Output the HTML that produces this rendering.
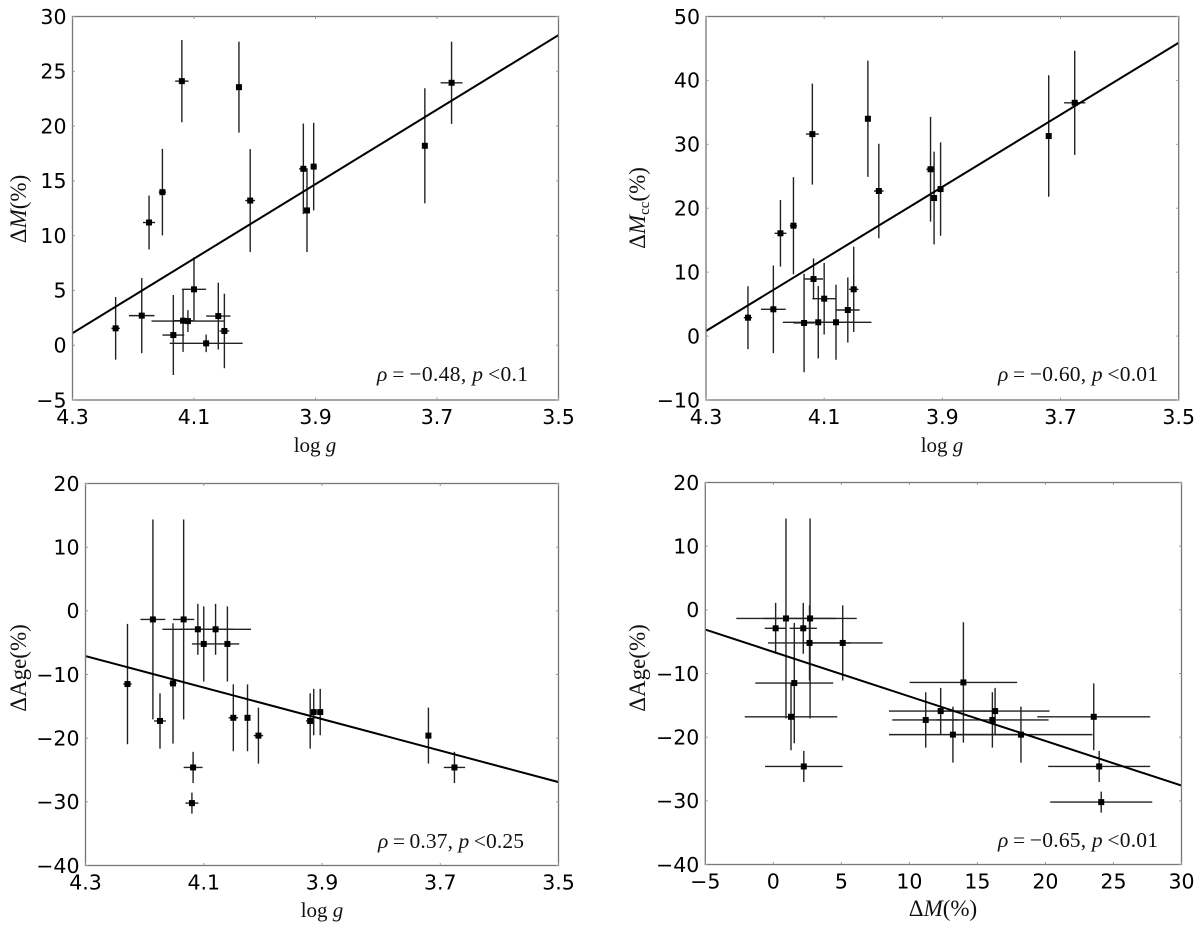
<!DOCTYPE html>
<html>
<head>
<meta charset="utf-8">
<title>Correlation panels</title>
<style>
  html, body { margin: 0; padding: 0; background: #fff; }
  #figure { display: block; width: 1200px; height: 931px; filter: blur(0.35px); }
  .tick-label { font-family: "DejaVu Sans", sans-serif; font-size: 20.5px; fill: #000; }
  .serif { font-family: "Liberation Serif", serif; fill: #111; }
</style>
</head>
<body>
<svg id="figure" xmlns="http://www.w3.org/2000/svg" width="1200" height="931" viewBox="0 0 1200 931"></svg>
<script>
// Star measurements, one entry per star
const logg = [4.229, 4.186, 4.174, 4.152, 4.134, 4.12, 4.118, 4.11, 4.10, 4.08, 4.06, 4.05, 4.026, 4.0075, 3.92, 3.914, 3.903, 3.72, 3.676];
const loggErr = [0.007, 0.021, 0.01, 0.006, 0.018, 0.011, 0.016, 0.06, 0.02, 0.06, 0.02, 0.008, 0.003, 0.008, 0.007, 0.005, 0.005, 0.003, 0.018];
const deltaM = [1.54, 2.7, 11.2, 13.97, 0.93, 24.1, 2.24, 2.2, 5.1, 0.17, 2.66, 1.3, 23.55, 13.2, 16.1, 12.3, 16.3, 18.2, 23.95];
const deltaMErr = [2.86, 3.43, 2.46, 3.95, 3.65, 3.75, 2.85, 1.0, 2.93, 0.8, 3.05, 3.4, 4.15, 4.7, 4.13, 3.8, 4.0, 5.25, 3.75];
const deltaMcc = [2.88, 4.19, 16.08, 17.27, 2.05, 31.6, 8.93, 2.16, 5.85, 2.16, 4.08, 7.32, 34, 22.7, 26.1, 21.6, 23, 31.3, 36.5];
const deltaMccErr = [4.92, 6.85, 5.22, 7.6, 7.7, 7.9, 3.2, 5.67, 5.6, 5.87, 5.08, 6.68, 9.1, 7.4, 8.2, 7.25, 7.3, 9.5, 8.15];
const deltaAge = [-11.5, -1.35, -17.3, -11.4, -1.35, -30.2, -24.6, -2.9, -5.2, -2.9, -5.2, -16.8, -16.8, -19.6, -17.3, -15.9, -15.9, -19.6, -24.6];
const deltaAgeErr = [9.45, 15.7, 4.35, 9.45, 15.7, 1.65, 2.45, 4, 5.9, 4, 5.9, 5.25, 5.25, 4.4, 4.35, 3.65, 3.65, 4.4, 2.45];

// Fit line end values, read at the left and right axis limits
const fitMassVsLogg = [1.1, 28.3];
const fitMccVsLogg = [0.8, 45.9];
const fitAgeVsLogg = [-7.1, -26.9];
const fitAgeVsMass = [-3.1, -27.6];

// Tick values
const loggTicks = [4.3, 4.1, 3.9, 3.7, 3.5];
const massXTicks = [-5, 0, 5, 10, 15, 20, 25, 30];
const massYTicks = [-5, 0, 5, 10, 15, 20, 25, 30];
const mccYTicks = [-10, 0, 10, 20, 30, 40, 50];
const ageYTicks = [-40, -30, -20, -10, 0, 10, 20];

const NS = 'http://www.w3.org/2000/svg';
const svg = document.getElementById('figure');

function make(tag, attrs, parent) {
  const el = document.createElementNS(NS, tag);
  for (const k in attrs) el.setAttribute(k, attrs[k]);
  parent.appendChild(el);
  return el;
}
function linear(d0, d1, r0, r1) {
  return function (v) { return r0 + (v - d0) * (r1 - r0) / (d1 - d0); };
}
function fmt(v, digits) {
  const s = digits ? v.toFixed(digits) : String(Math.abs(v));
  return (!digits && v < 0) ? '\u2212' + s : s;
}

function drawPanel(cfg) {
  const g = make('g', {}, svg);
  
  
  const x = linear(cfg.xDomain[0], cfg.xDomain[1], cfg.left, cfg.right);
  const y = linear(cfg.yDomain[0], cfg.yDomain[1], cfg.bottom, cfg.top);

  const clipId = cfg.name + '-clip';
  const clip = make('clipPath', { id: clipId }, g);
  make('rect', { x: cfg.left, y: cfg.top, width: cfg.right - cfg.left, height: cfg.bottom - cfg.top }, clip);

  // Error bars
  const bars = make('g', { stroke: '#222', 'stroke-width': 1.4, fill: 'none', 'clip-path': 'url(#' + clipId + ')' }, g);
  
  
  cfg.xs.forEach(function (xv, i) {
    const yv = cfg.ys[i];
    const h = make('line', { x1: x(xv - cfg.xErr[i]), x2: x(xv + cfg.xErr[i]), y1: y(yv), y2: y(yv) }, bars);
    
    
    const v = make('line', { x1: x(xv), x2: x(xv), y1: y(yv - cfg.yErr[i]), y2: y(yv + cfg.yErr[i]) }, bars);
    
    
  });

  // Fit line
  const fit = make('line', {
    x1: x(cfg.xDomain[0]), y1: y(cfg.fit[0]), x2: x(cfg.xDomain[1]), y2: y(cfg.fit[1]),
    stroke: '#000', 'stroke-width': 2, 'clip-path': 'url(#' + clipId + ')'
  }, g);
  
  

  // Markers
  const marks = make('g', { fill: '#000' }, g);
  
  
  cfg.xs.forEach(function (xv, i) {
    const m = make('rect', { x: x(xv) - 3, y: y(cfg.ys[i]) - 3, width: 6, height: 6 }, marks);
    
    
  });

  // Frame
  const frame = make('rect', {
    x: cfg.left, y: cfg.top, width: cfg.right - cfg.left, height: cfg.bottom - cfg.top,
    fill: 'none', stroke: '#777', 'stroke-width': 1.3
  }, g);
  
  

  // X ticks
  const xAxis = make('g', {}, g);
  
  
  cfg.xTicks.forEach(function (t) {
    const px = x(t);
    make('line', { x1: px, x2: px, y1: cfg.bottom, y2: cfg.bottom - 2.5, stroke: '#999', 'stroke-width': 1 }, xAxis);
    make('line', { x1: px, x2: px, y1: cfg.top, y2: cfg.top + 2.5, stroke: '#999', 'stroke-width': 1 }, xAxis);
    const lab = make('text', { x: px, y: cfg.bottom + 24, 'text-anchor': 'middle', class: 'tick-label' }, xAxis);
    lab.textContent = fmt(t, cfg.xDigits);
    
    
  });

  // Y ticks
  const yAxis = make('g', {}, g);
  
  
  cfg.yTicks.forEach(function (t) {
    const py = y(t);
    make('line', { x1: cfg.left, x2: cfg.left + 2.5, y1: py, y2: py, stroke: '#999', 'stroke-width': 1 }, yAxis);
    make('line', { x1: cfg.right, x2: cfg.right - 2.5, y1: py, y2: py, stroke: '#999', 'stroke-width': 1 }, yAxis);
    const lab = make('text', { x: cfg.left - 6, y: py + 7.3, 'text-anchor': 'end', class: 'tick-label' }, yAxis);
    lab.textContent = fmt(t, 0);
    
    
  });

  // X axis title
  const xt = make('text', { x: cfg.xTitleX, y: cfg.xTitleY, 'text-anchor': 'middle', class: 'serif', 'font-size': cfg.xTitleSize }, g);
  
  
  cfg.xTitle(xt);

  // Y axis title
  const yt = make('text', {
    transform: 'translate(' + cfg.yTitleX + ',' + cfg.yTitleY + ') rotate(-90)',
    'text-anchor': 'middle', class: 'serif', 'font-size': 23
  }, g);
  
  
  cfg.yTitle(yt);

  // Correlation note
  const note = make('text', {
    x: cfg.noteX, y: cfg.noteY, class: 'serif', 'font-size': 21.5,
    textLength: cfg.noteW, lengthAdjust: 'spacing'
  }, g);
  
  
  addSpan(note, '\u03c1', true);
  addSpan(note, '\u2009=\u2009' + cfg.rho + ', ', false);
  addSpan(note, 'p', true);
  addSpan(note, '\u2009<' + cfg.pval, false);
}

function addSpan(parent, text, italic, extra) {
  const s = make('tspan', extra || {}, parent);
  if (italic) s.setAttribute('font-style', 'italic');
  s.textContent = text;
  return s;
}
function titleLogg(t) {
  addSpan(t, 'log ', false);
  addSpan(t, 'g', true);
}
function titleMass(t) {
  addSpan(t, '\u0394', false);
  addSpan(t, 'M', true);
  addSpan(t, '(%)', false);
}
function titleMcc(t) {
  addSpan(t, '\u0394', false);
  addSpan(t, 'M', true);
  addSpan(t, 'cc', false, { 'font-size': 15, dy: 4 });
  addSpan(t, '(%)', false, { dy: -4 });
}
function titleAge(t) {
  addSpan(t, '\u0394Age(%)', false);
}

drawPanel({
  name: 'panel-mass-vs-logg',
  left: 72.5, right: 558.5, top: 16.5, bottom: 400,
  xDomain: [4.3, 3.5], yDomain: [-5, 30],
  xs: logg, xErr: loggErr, ys: deltaM, yErr: deltaMErr, fit: fitMassVsLogg,
  xTicks: loggTicks, yTicks: massYTicks, xDigits: 1,
  xTitle: titleLogg, xTitleSize: 21, yTitle: titleMass,
  xTitleX: 315, xTitleY: 452, yTitleX: 26, yTitleY: 209,
  rho: '\u22120.48', pval: '0.1', noteX: 377, noteY: 381, noteW: 151
});
drawPanel({
  name: 'panel-mcc-vs-logg',
  left: 706, right: 1178.7, top: 16.5, bottom: 400,
  xDomain: [4.3, 3.5], yDomain: [-10, 50],
  xs: logg, xErr: loggErr, ys: deltaMcc, yErr: deltaMccErr, fit: fitMccVsLogg,
  xTicks: loggTicks, yTicks: mccYTicks, xDigits: 1,
  xTitle: titleLogg, xTitleSize: 21, yTitle: titleMcc,
  xTitleX: 942, xTitleY: 452, yTitleX: 645, yTitleY: 208,
  rho: '\u22120.60', pval: '0.01', noteX: 998, noteY: 381, noteW: 160
});
drawPanel({
  name: 'panel-age-vs-logg',
  left: 85.5, right: 558.5, top: 483.5, bottom: 865.5,
  xDomain: [4.3, 3.5], yDomain: [-40, 20],
  xs: logg, xErr: loggErr, ys: deltaAge, yErr: deltaAgeErr, fit: fitAgeVsLogg,
  xTicks: loggTicks, yTicks: ageYTicks, xDigits: 1,
  xTitle: titleLogg, xTitleSize: 21, yTitle: titleAge,
  xTitleX: 322, xTitleY: 917, yTitleX: 26, yTitleY: 668,
  rho: '0.37', pval: '0.25', noteX: 378, noteY: 848, noteW: 146
});
drawPanel({
  name: 'panel-age-vs-mass',
  left: 705.3, right: 1181.5, top: 482.5, bottom: 864.5,
  xDomain: [-5, 30], yDomain: [-40, 20],
  xs: deltaM, xErr: deltaMErr, ys: deltaAge, yErr: deltaAgeErr, fit: fitAgeVsMass,
  xTicks: massXTicks, yTicks: ageYTicks, xDigits: 0,
  xTitle: titleMass, xTitleSize: 23, yTitle: titleAge,
  xTitleX: 943, xTitleY: 916, yTitleX: 645, yTitleY: 668,
  rho: '\u22120.65', pval: '0.01', noteX: 998, noteY: 847, noteW: 160
});
</script>
</body>
</html>
